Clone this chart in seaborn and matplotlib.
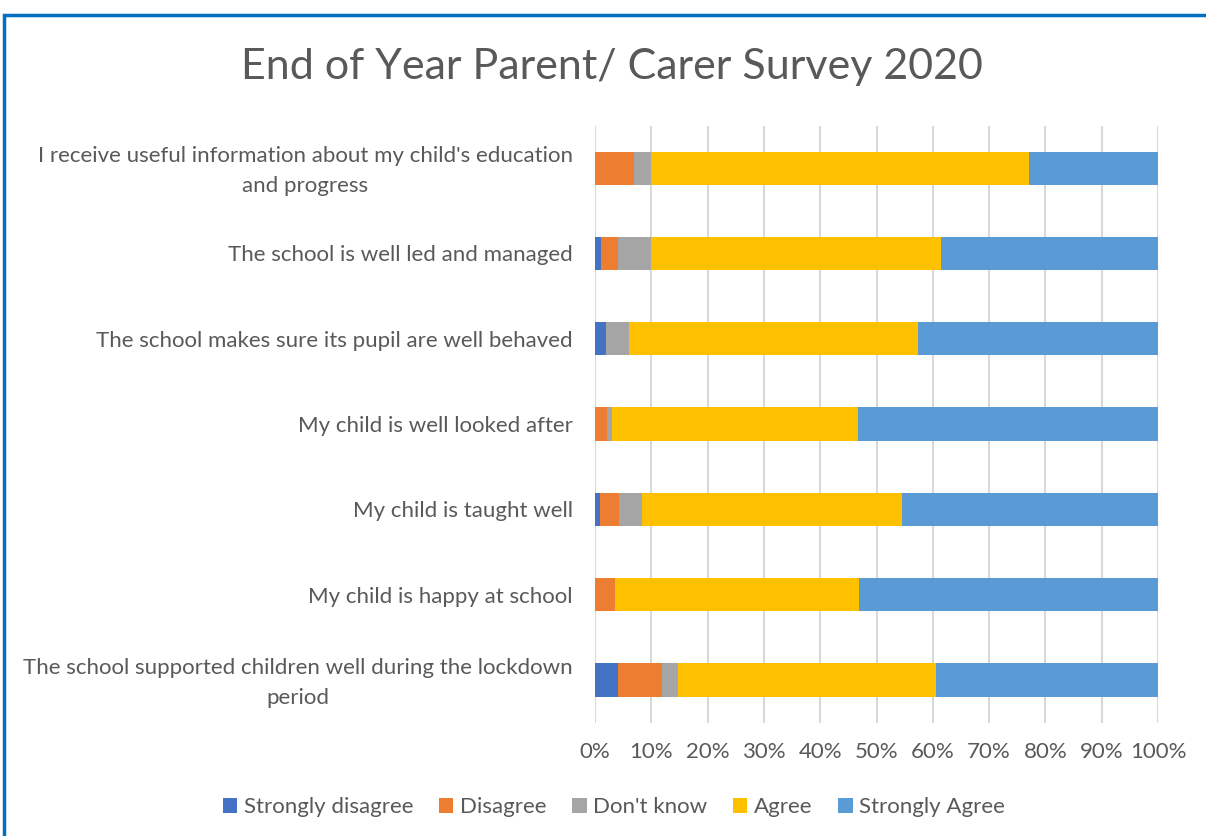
import matplotlib
matplotlib.use("Agg")
import matplotlib.pyplot as plt
import matplotlib.transforms as mtransforms
from matplotlib.patches import Patch, Rectangle
import numpy as np
import pandas as pd
import seaborn as sns

questions = [
    "I receive useful information about my child's education\nand progress",
    "The school is well led and managed",
    "The school makes sure its pupil are well behaved",
    "My child is well looked after",
    "My child is taught well",
    "My child is happy at school",
    "The school supported children well during the lockdown\nperiod",
]
strongly_disagree = [0.0, 1.0, 2.0, 0.0, 0.8, 0.0, 4.0]
disagree = [7.0, 3.0, 0.0, 2.1, 3.5, 3.6, 7.9]
dont_know = [3.0, 6.0, 4.0, 1.0, 4.0, 0.0, 2.9]
agree = [67.0, 51.5, 51.4, 43.6, 46.2, 43.3, 45.8]
strongly_agree = [23.0, 38.5, 42.6, 53.3, 45.5, 53.1, 39.4]

series = ["Strongly disagree", "Disagree", "Don't know", "Agree", "Strongly Agree"]
colors = ["#4472C4", "#ED7D31", "#A5A5A5", "#FFC000", "#5B9BD5"]

text_col = "#595959"
sns.set_style("white")
plt.rcParams["font.family"] = ["Lato", "DejaVu Sans"]

df = pd.DataFrame({
    "question": questions,
    series[0]: strongly_disagree,
    series[1]: disagree,
    series[2]: dont_know,
    series[3]: agree,
    series[4]: strongly_agree,
})
cum = df[series].cumsum(axis=1)

fig = plt.figure(figsize=(12.06, 8.36), dpi=100)
ax = fig.add_axes([595 / 1206, 1 - 722.7 / 836, (1158 - 595) / 1206, (722.7 - 125.5) / 836])

# draw cumulative totals from the last series back to the first so they stack
for name, col in reversed(list(zip(series, colors))):
    sns.barplot(x=cum[name], y=df["question"], color=col, orient="h",
                width=0.39, linewidth=0, saturation=1, ax=ax)

ax.set_xlim(0, 100)
ax.set_xticks(np.arange(0, 101, 10))
ax.set_xticklabels([f"{v}%" for v in range(0, 101, 10)])
ax.set_xlabel("")
ax.set_ylabel("")
ax.xaxis.grid(True, color="#D9D9D9", linewidth=1.5)
ax.set_axisbelow(True)
for s in ax.spines.values():
    s.set_visible(False)
ax.tick_params(axis="both", length=0, labelsize=16, colors=text_col)
ax.tick_params(axis="x", pad=14)
ax.tick_params(axis="y", pad=16)
# nudge two-line labels up a little so they sit centred on the bar
shift = mtransforms.ScaledTranslation(0, 4 / 100, fig.dpi_scale_trans)
for lab in ax.get_yticklabels():
    lab.set_multialignment("center")
    lab.set_linespacing(1.6)
    if "\n" in lab.get_text():
        lab.set_transform(lab.get_transform() + shift)

fig.text(612 / 1206, 1 - 67 / 836, "End of Year Parent/ Carer Survey 2020",
         ha="center", va="center", fontsize=31, color=text_col)

handles = [Patch(facecolor=c, edgecolor="none") for c in colors]
fig.legend(handles, series, loc="center", bbox_to_anchor=(614 / 1206, 1 - 807 / 836),
           ncol=5, frameon=False, fontsize=16, labelcolor=text_col,
           handlelength=0.65, handleheight=0.65, handletextpad=0.3, columnspacing=1.15)

# outer chart frame
fig.patches.append(Rectangle((4 / 1206, -0.1), 1.2, 1 - 15 / 836 + 0.1,
                             transform=fig.transFigure, fill=False,
                             edgecolor="#0070C0", linewidth=2.5))

fig.savefig("out.png", dpi=100)
